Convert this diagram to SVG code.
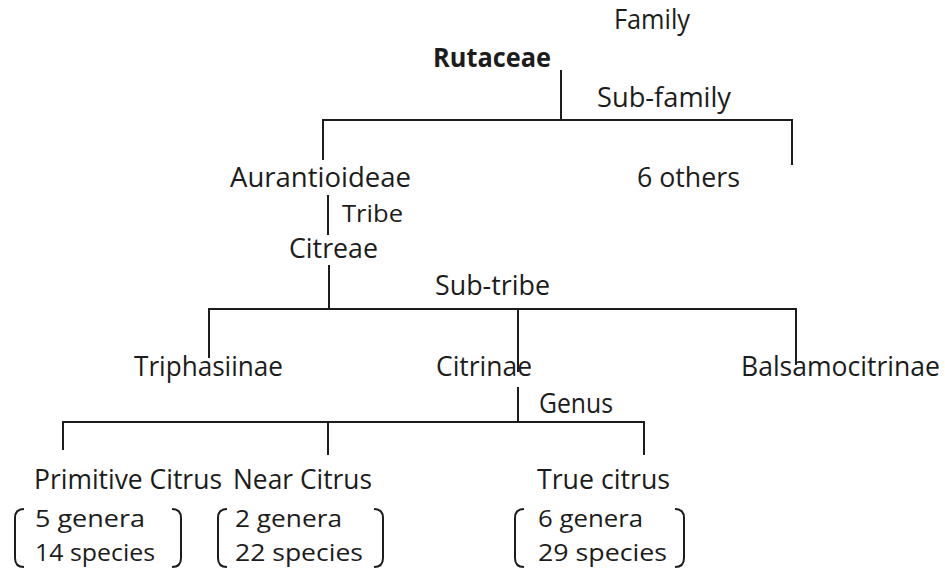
<svg xmlns="http://www.w3.org/2000/svg" width="945" height="574" viewBox="0 0 945 574">
<style>
text{font-family:"Open Sans","Noto Sans","Liberation Sans",sans-serif;font-size:27px;fill:#1c1c1c}
.b{font-weight:bold}
.s{font-size:24.5px}
.t{font-size:24px}
.c{fill:none;stroke:#1c1c1c;stroke-width:2}
</style>
<rect width="945" height="574" fill="#fff"/>
<g id="connectors" class="c">
<path d="M561 70V120M323 160V120H792V165"/>
<path d="M328 195V235"/>
<path d="M329 265V309M209 358V309H796V365M518 309V372"/>
<path d="M518 387V422M63 450V422H644V455M328 422V455"/>
</g>
<g id="label-family"><text x="614" y="29" textLength="76" lengthAdjust="spacingAndGlyphs">Family</text></g>
<g id="node-rutaceae"><text class="b" x="433" y="67" textLength="118" lengthAdjust="spacingAndGlyphs">Rutaceae</text></g>
<g id="label-subfamily"><text x="597" y="107" textLength="134" lengthAdjust="spacingAndGlyphs">Sub-family</text></g>
<g id="node-aurantioideae"><text x="230" y="187" textLength="181" lengthAdjust="spacingAndGlyphs">Aurantioideae</text></g>
<g id="node-others"><text x="637" y="187" textLength="103" lengthAdjust="spacingAndGlyphs">6 others</text></g>
<g id="label-tribe"><text class="t" x="342" y="222" textLength="61" lengthAdjust="spacingAndGlyphs">Tribe</text></g>
<g id="node-citreae"><text x="289" y="258" textLength="89" lengthAdjust="spacingAndGlyphs">Citreae</text></g>
<g id="label-subtribe"><text x="435" y="295" textLength="115" lengthAdjust="spacingAndGlyphs">Sub-tribe</text></g>
<g id="node-triphasiinae"><text x="134" y="376" textLength="149" lengthAdjust="spacingAndGlyphs">Triphasiinae</text></g>
<g id="node-citrinae"><text x="436" y="376" textLength="96" lengthAdjust="spacingAndGlyphs">Citrinae</text></g>
<g id="node-balsamocitrinae"><text x="741" y="376" textLength="199" lengthAdjust="spacingAndGlyphs">Balsamocitrinae</text></g>
<g id="label-genus"><text x="539" y="413" textLength="74" lengthAdjust="spacingAndGlyphs">Genus</text></g>
<g id="node-primitive">
<text x="34" y="489" textLength="188" lengthAdjust="spacingAndGlyphs">Primitive Citrus</text>
<path class="c" d="M24 509Q15 509 15 518V558Q15 567 24 567M172 509Q181 509 181 518V558Q181 567 172 567"/>
<text class="s" x="35" y="527" textLength="110" lengthAdjust="spacingAndGlyphs">5 genera</text>
<text class="s" x="35" y="561" textLength="120" lengthAdjust="spacingAndGlyphs">14 species</text>
</g>
<g id="node-near">
<text x="233" y="489" textLength="139" lengthAdjust="spacingAndGlyphs">Near Citrus</text>
<path class="c" d="M227 509Q218 509 218 518V558Q218 567 227 567M374 509Q383 509 383 518V558Q383 567 374 567"/>
<text class="s" x="235" y="527" textLength="107" lengthAdjust="spacingAndGlyphs">2 genera</text>
<text class="s" x="235" y="561" textLength="128" lengthAdjust="spacingAndGlyphs">22 species</text>
</g>
<g id="node-true">
<text x="537" y="489" textLength="133" lengthAdjust="spacingAndGlyphs">True citrus</text>
<path class="c" d="M524 509Q515 509 515 518V558Q515 567 524 567M675 509Q684 509 684 518V558Q684 567 675 567"/>
<text class="s" x="538" y="527" textLength="105" lengthAdjust="spacingAndGlyphs">6 genera</text>
<text class="s" x="538" y="561" textLength="129" lengthAdjust="spacingAndGlyphs">29 species</text>
</g>
</svg>
